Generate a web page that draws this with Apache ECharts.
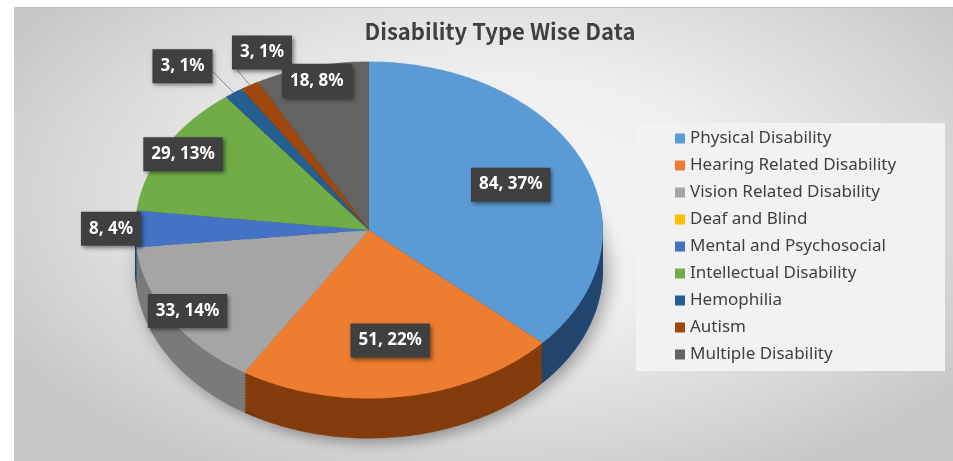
<!DOCTYPE html>
<html><head><meta charset="utf-8">
<script src="https://cdn.jsdelivr.net/npm/echarts@6/dist/echarts.min.js"></script>
<style>
html,body{margin:0;padding:0;background:#fff;}
#wrap{position:relative;width:953px;height:461px;overflow:hidden;background:#fff;}
#bg{position:absolute;left:14px;top:7px;width:939px;height:454px;border-top:1px solid #c4c4c4;box-sizing:border-box;
 background:radial-gradient(ellipse 62% 70% at 52% 42%, #f6f6f6 0%, #eeeeee 40%, #d8d8d8 75%, #c6c6c6 100%);}
#pie{position:absolute;left:0;top:-20px;width:953px;height:640px;transform:scaleY(0.72);transform-origin:369px 250px;}
#main{position:absolute;left:0;top:0;width:953px;height:461px;}
</style></head><body>
<div id="wrap"><div id="bg"></div><div id="pie"></div><div id="main"></div></div>
<script>
// ---- data ----
const categories = ['Physical Disability','Hearing Related Disability','Vision Related Disability','Deaf and Blind','Mental and Psychosocial','Intellectual Disability','Hemophilia','Autism','Multiple Disability'];
const counts = [84, 51, 33, 0, 8, 29, 3, 3, 18];
const percents = [37, 22, 14, 0, 4, 13, 1, 1, 8];
const title = 'Disability Type Wise Data';

// ---- styles ----
const colors = ['#5B9BD5','#ED7D31','#A5A5A5','#FFC000','#4472C4','#70AD47','#255E91','#9E480E','#636363'];
const sideColors = ['#22466e','#843c0c','#7a7a7a','#8a6800','#243f70','#3d6326','#143452','#5a2808','#383838'];
const nearIdx = [0, 1];        // labels placed mid-radius
const farIdx = [2, 5, 8];      // labels placed near the rim
const outIdx = [4, 6, 7];      // labels outside

const CX = 369, CY = 230, R = 234, K = 0.72, DEPTH = 40, A_OFF = 20;

// ---- pie body (vertically squashed by CSS to look tilted) ----
const chartA = echarts.init(document.getElementById('pie'), null, {width: 953, height: 640});
const seriesA = [];
const layers = 14;
for (let i = layers; i >= 1; i--) {
  const off = DEPTH / K * i / layers;
  seriesA.push({
    type: 'pie', silent: true, radius: R, center: [CX, CY + A_OFF + off], startAngle: 90, clockwise: true,
    label: {show: false}, labelLine: {show: false},
    itemStyle: i === layers ? {shadowBlur: 18, shadowColor: 'rgba(0,0,0,0.35)', shadowOffsetX: 4, shadowOffsetY: 6} : {},
    data: categories.map((n, j) => ({name: n, value: counts[j], itemStyle: {color: sideColors[j]}}))
  });
}
seriesA.push({
  type: 'pie', silent: true, radius: R, center: [CX, CY + A_OFF], startAngle: 90, clockwise: true,
  label: {show: false}, labelLine: {show: false},
  data: categories.map((n, j) => ({name: n, value: counts[j], itemStyle: {color: colors[j]}}))
});
chartA.setOption({animation: false, series: seriesA});

// ---- overlay: title, legend, labels ----
function squash(p) {
  const r = p.labelRect;
  const out = {y: CY + (r.y + r.height / 2 - CY) * K};
  if (p.labelLinePoints) {
    out.labelLinePoints = p.labelLinePoints.map(pt => [pt[0], CY + (pt[1] - CY) * K]);
  }
  if (p.dataIndex === 6) { out.x = r.x + r.width + 10; }
  if (p.dataIndex === 7) { out.align = 'left'; out.verticalAlign = 'bottom'; }
  return out;
}
const baseLabel = {
  show: true, color: '#ffffff', fontFamily: 'Noto Sans', fontWeight: 'bold', fontSize: 17, lineHeight: 20,
  backgroundColor: '#404040', padding: [7, 8, 7, 8],
  shadowBlur: 4, shadowColor: 'rgba(0,0,0,0.45)', shadowOffsetX: 2, shadowOffsetY: 2,
  formatter: p => counts[p.dataIndex] + ', ' + percents[p.dataIndex] + '%'
};
const lineCfg = {4: {show: false, length: 0, length2: 0}, 6: {show: true, length: 45, length2: 0}, 7: {show: true, length: 25, length2: 0}};
const distCfg = {4: -6, 6: 5, 7: 5};

const l1Data = categories.map((n, j) => {
  const item = {name: n, value: counts[j], itemStyle: {color: 'rgba(0,0,0,0)'}, labelLine: {show: false}};
  if (nearIdx.includes(j)) item.label = {show: true, position: 'inside'};
  else if (outIdx.includes(j)) { item.label = {show: true, position: 'outside', distanceToLabelLine: distCfg[j]}; item.labelLine = lineCfg[j]; }
  else item.label = {show: false};
  return item;
});
const l2Data = categories.map((n, j) => ({
  name: n, value: counts[j], itemStyle: {color: 'rgba(0,0,0,0)'}, labelLine: {show: false},
  label: {show: farIdx.includes(j), position: 'inside'}
}));

const chartB = echarts.init(document.getElementById('main'), null, {width: 953, height: 461});
chartB.setOption({
  animation: false,
  backgroundColor: 'transparent',
  title: {text: title, left: 500, textAlign: 'center', top: 21, padding: 0,
    textStyle: {fontFamily: 'Noto Sans CJK KR', fontWeight: 'bold', fontSize: 22, color: '#404040'}},
  graphic: [{type: 'rect', silent: true, z: 0, shape: {x: 636, y: 123, width: 309, height: 248}, style: {fill: '#f2f2f2'}}],
  legend: {orient: 'vertical', left: 675, top: 130, padding: 0, itemWidth: 10, itemHeight: 10, itemGap: 10, icon: 'rect',
    selectedMode: false,
    textStyle: {fontFamily: 'Noto Sans', fontSize: 17, color: '#404040'},
    data: categories.map((n, i) => ({name: n, itemStyle: {color: colors[i]}}))},
  series: [
    {type: 'pie', silent: true, radius: [R * 0.3, R], center: [CX, CY], startAngle: 90, clockwise: true,
     avoidLabelOverlap: false, label: baseLabel,
     labelLine: {show: false, length: 20, length2: 0, lineStyle: {color: '#8c8c8c', width: 1}},
     labelLayout: squash, data: l1Data},
    {type: 'pie', silent: true, radius: [R * 0.75, R * 1.05], center: [CX, CY], startAngle: 90, clockwise: true,
     avoidLabelOverlap: false, label: baseLabel, labelLine: {show: false},
     labelLayout: squash, data: l2Data}
  ]
});
</script>
</body></html>
